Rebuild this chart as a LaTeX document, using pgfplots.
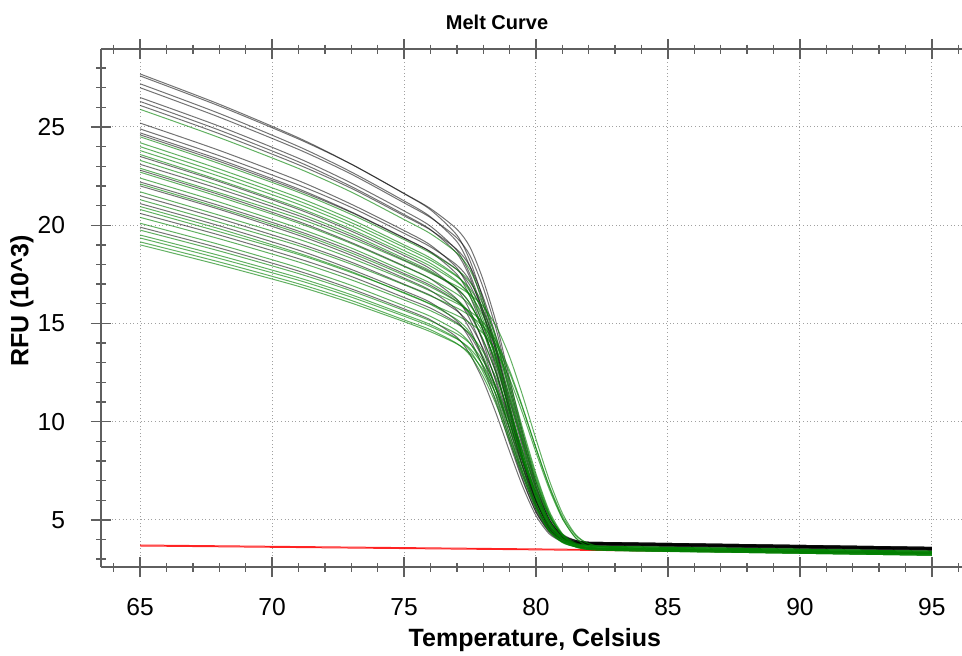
\documentclass[border=0pt]{standalone}
\usepackage{pgfplots}
\pgfplotsset{compat=1.18}
\usepackage{fontspec}
\setmainfont{Liberation Sans}
\definecolor{axgray}{RGB}{95,95,95}
\definecolor{gridgray}{RGB}{160,160,160}
\definecolor{wellgreen}{RGB}{0,128,0}
\tikzset{
  blk/.style={black, opacity=0.55, line width=0.5pt, smooth, tension=0.45},
  grn/.style={wellgreen, opacity=0.62, line width=0.5pt, smooth, tension=0.45},
  rd/.style={red, opacity=0.85, line width=0.5pt}
}
\begin{document}
\begin{tikzpicture}
\begin{axis}[
  scale only axis,
  width=430.5pt, height=259pt,
  xmin=63.52, xmax=96.14,
  ymin=2.6, ymax=28.97,
  axis x line=box,
  axis y line*=left,
  axis line style={-, axgray, line width=0.9pt},
  y axis line style={-},
  xtick={65,70,...,95},
  ytick={5,10,...,25},
  minor xtick={64,...,96},
  minor ytick={3,...,28},
  tick align=center,
  major tick length=10pt,
  minor tick length=4.5pt,
  tick style={axgray, line width=0.7pt},
  xticklabel pos=bottom,
  grid=major,
  major grid style={gridgray, dash pattern=on 0.5pt off 1.3pt, line width=0.5pt},
  /pgf/number format/assume math mode=true,
  tick label style={font=\fontsize{12.3}{14}\selectfont},
  xticklabel style={anchor=north, inner sep=0pt, yshift=-10.6pt},
  yticklabel style={anchor=east, inner sep=0pt, xshift=-12.8pt},
  xlabel={Temperature, Celsius},
  ylabel={RFU (10\textasciicircum 3)},
  label style={font=\fontsize{12.5}{15}\selectfont\bfseries},
  xlabel style={at={(axis description cs:0.504,-0.1544)}, anchor=base},
  ylabel style={at={(axis description cs:-0.0918,0.5135)}, anchor=center, rotate=0},
  title={Melt Curve},
  title style={font=\fontsize{10}{12}\selectfont\bfseries, at={(axis description cs:0.46,1.028)}, anchor=center, yshift=0pt},
]
% red
\addplot[rd] coordinates {(65,3.72)(80,3.52)(95,3.32)};
\addplot[rd] coordinates {(65,3.67)(80,3.475)(95,3.28)};
% black wells
\addplot[blk] coordinates {(65,27.70)(68,26.16)(71,24.45)(73,23.11)(75,21.61)(76,20.79)(77,19.50)(77.5,18.19)(78,16.21)(78.5,13.68)(79,10.86)(79.5,8.19)(80,6.02)(80.5,4.66)(81,4.07)(81.5,3.87)(82,3.81)(83,3.79)(88,3.69)(95,3.55)};
\addplot[blk] coordinates {(65,27.60)(68,26.07)(71,24.39)(73,23.11)(75,21.62)(76,20.85)(77,19.80)(77.5,18.88)(78,17.21)(78.5,15.00)(79,12.18)(79.5,9.43)(80,6.94)(80.5,5.15)(81,4.28)(81.5,3.96)(82,3.86)(83,3.84)(88,3.74)(95,3.60)};
\addplot[blk] coordinates {(65,27.20)(68,25.69)(71,24.01)(73,22.71)(75,21.24)(76,20.43)(77,19.17)(77.5,17.89)(78,15.95)(78.5,13.47)(79,10.72)(79.5,8.10)(80,5.97)(80.5,4.65)(81,4.06)(81.5,3.87)(82,3.81)(83,3.79)(88,3.69)(95,3.55)};
\addplot[blk] coordinates {(65,27.00)(68,25.50)(71,23.86)(73,22.60)(75,21.14)(76,20.39)(77,19.36)(77.5,18.46)(78,16.82)(78.5,14.66)(79,11.90)(79.5,9.21)(80,6.78)(80.5,5.03)(81,4.17)(81.5,3.86)(82,3.76)(83,3.74)(88,3.64)(95,3.50)};
\addplot[blk] coordinates {(65,26.50)(68,25.04)(71,23.41)(73,22.15)(75,20.73)(76,19.95)(77,18.72)(77.5,17.49)(78,15.60)(78.5,13.21)(79,10.54)(79.5,8.01)(80,5.95)(80.5,4.67)(81,4.10)(81.5,3.91)(82,3.86)(83,3.84)(88,3.74)(95,3.60)};
\addplot[blk] coordinates {(65,26.30)(68,24.84)(71,23.23)(73,21.97)(75,20.55)(76,19.78)(77,18.56)(77.5,17.33)(78,15.45)(78.5,13.07)(79,10.41)(79.5,7.89)(80,5.84)(80.5,4.57)(81,4.00)(81.5,3.81)(82,3.76)(83,3.74)(88,3.64)(95,3.50)};
\addplot[blk] coordinates {(65,26.10)(68,24.66)(71,23.08)(73,21.88)(75,20.48)(76,19.76)(77,18.77)(77.5,17.90)(78,16.34)(78.5,14.26)(79,11.62)(79.5,9.04)(80,6.70)(80.5,5.03)(81,4.20)(81.5,3.91)(82,3.81)(83,3.79)(88,3.69)(95,3.55)};
\addplot[blk] coordinates {(65,25.20)(68,23.81)(71,22.27)(73,21.07)(75,19.73)(76,18.99)(77,17.83)(77.5,16.66)(78,14.88)(78.5,12.61)(79,10.09)(79.5,7.69)(80,5.74)(80.5,4.53)(81,3.99)(81.5,3.81)(82,3.76)(83,3.74)(88,3.64)(95,3.50)};
\addplot[blk] coordinates {(65,24.90)(68,23.54)(71,22.05)(73,20.91)(75,19.59)(76,18.90)(77,17.97)(77.5,17.16)(78,15.68)(78.5,13.72)(79,11.23)(79.5,8.80)(80,6.59)(80.5,5.01)(81,4.23)(81.5,3.95)(82,3.86)(83,3.84)(88,3.74)(95,3.60)};
\addplot[blk] coordinates {(65,24.70)(68,23.35)(71,21.85)(73,20.68)(75,19.36)(76,18.64)(77,17.51)(77.5,16.37)(78,14.64)(78.5,12.43)(79,9.97)(79.5,7.64)(80,5.74)(80.5,4.56)(81,4.04)(81.5,3.86)(82,3.81)(83,3.79)(88,3.69)(95,3.55)};
\addplot[blk] coordinates {(65,24.60)(68,23.25)(71,21.77)(73,20.65)(75,19.34)(76,18.66)(77,17.74)(77.5,16.93)(78,15.46)(78.5,13.53)(79,11.06)(79.5,8.65)(80,6.47)(80.5,4.90)(81,4.13)(81.5,3.85)(82,3.76)(83,3.74)(88,3.64)(95,3.50)};
\addplot[blk] coordinates {(65,23.50)(68,22.22)(71,20.81)(73,19.70)(75,18.46)(76,17.78)(77,16.72)(77.5,15.65)(78,14.01)(78.5,11.93)(79,9.62)(79.5,7.42)(80,5.63)(80.5,4.52)(81,4.02)(81.5,3.86)(82,3.81)(83,3.79)(88,3.69)(95,3.55)};
\addplot[blk] coordinates {(65,23.10)(68,21.85)(71,20.49)(73,19.44)(75,18.23)(76,17.61)(77,16.76)(77.5,16.01)(78,14.66)(78.5,12.87)(79,10.59)(79.5,8.37)(80,6.36)(80.5,4.91)(81,4.20)(81.5,3.95)(82,3.86)(83,3.84)(88,3.74)(95,3.60)};
\addplot[blk] coordinates {(65,22.80)(68,21.56)(71,20.19)(73,19.12)(75,17.93)(76,17.27)(77,16.24)(77.5,15.20)(78,13.62)(78.5,11.61)(79,9.37)(79.5,7.25)(80,5.52)(80.5,4.44)(81,3.97)(81.5,3.81)(82,3.76)(83,3.74)(88,3.64)(95,3.50)};
\addplot[blk] coordinates {(65,22.20)(68,21.00)(71,19.70)(73,18.70)(75,17.54)(76,16.94)(77,16.13)(77.5,15.42)(78,14.12)(78.5,12.42)(79,10.24)(79.5,8.12)(80,6.20)(80.5,4.81)(81,4.14)(81.5,3.89)(82,3.81)(83,3.79)(88,3.69)(95,3.55)};
\addplot[blk] coordinates {(65,22.00)(68,20.81)(71,19.49)(73,18.47)(75,17.31)(76,16.68)(77,15.69)(77.5,14.70)(78,13.18)(78.5,11.25)(79,9.10)(79.5,7.06)(80,5.40)(80.5,4.37)(81,3.91)(81.5,3.76)(82,3.71)(83,3.69)(88,3.59)(95,3.45)};
\addplot[blk] coordinates {(65,21.50)(68,20.34)(71,19.08)(73,18.12)(75,17.00)(76,16.43)(77,15.64)(77.5,14.95)(78,13.71)(78.5,12.06)(79,9.96)(79.5,7.92)(80,6.06)(80.5,4.73)(81,4.08)(81.5,3.84)(82,3.76)(83,3.74)(88,3.64)(95,3.50)};
\addplot[blk] coordinates {(65,21.10)(68,19.97)(71,18.73)(73,17.75)(75,16.66)(76,16.07)(77,15.13)(77.5,14.19)(78,12.75)(78.5,10.93)(79,8.90)(79.5,6.98)(80,5.41)(80.5,4.43)(81,4.00)(81.5,3.85)(82,3.81)(83,3.79)(88,3.69)(95,3.55)};
\addplot[blk] coordinates {(65,20.60)(68,19.50)(71,18.30)(73,17.39)(75,16.32)(76,15.78)(77,15.03)(77.5,14.38)(78,13.20)(78.5,11.63)(79,9.64)(79.5,7.70)(80,5.95)(80.5,4.68)(81,4.06)(81.5,3.84)(82,3.76)(83,3.74)(88,3.64)(95,3.50)};
\addplot[blk] coordinates {(65,19.90)(68,18.84)(71,17.67)(73,16.76)(75,15.74)(76,15.18)(77,14.30)(77.5,13.42)(78,12.08)(78.5,10.37)(79,8.48)(79.5,6.68)(80,5.21)(80.5,4.29)(81,3.89)(81.5,3.75)(82,3.71)(83,3.69)(88,3.59)(95,3.45)};
% green wells
\addplot[grn] coordinates {(65,25.90)(68,24.46)(71,22.89)(73,21.69)(75,20.29)(76,19.57)(77,18.59)(77.5,17.72)(78,16.16)(78.5,14.09)(79,11.45)(79.5,8.88)(80,6.55)(80.5,4.87)(81,4.05)(81.5,3.76)(82,3.66)(83,3.64)(88,3.54)(95,3.40)};
\addplot[grn] coordinates {(65,24.50)(68,23.14)(71,21.68)(73,20.55)(75,19.27)(76,18.59)(77,17.75)(77.5,17.10)(78,15.96)(78.5,14.26)(79,12.05)(79.5,9.63)(80,7.35)(80.5,5.46)(81,4.30)(81.5,3.78)(82,3.60)(83,3.54)(88,3.44)(95,3.30)};
\addplot[grn] coordinates {(65,24.20)(68,22.86)(71,21.41)(73,20.29)(75,19.00)(76,18.33)(77,17.42)(77.5,16.62)(78,15.17)(78.5,13.26)(79,10.82)(79.5,8.44)(80,6.28)(80.5,4.73)(81,3.97)(81.5,3.70)(82,3.61)(83,3.59)(88,3.49)(95,3.35)};
\addplot[grn] coordinates {(65,24.00)(68,22.67)(71,21.24)(73,20.13)(75,18.88)(76,18.22)(77,17.39)(77.5,16.76)(78,15.64)(78.5,13.98)(79,11.81)(79.5,9.44)(80,7.22)(80.5,5.37)(81,4.24)(81.5,3.72)(82,3.55)(83,3.49)(88,3.39)(95,3.25)};
\addplot[grn] coordinates {(65,23.80)(68,22.49)(71,21.07)(73,19.98)(75,18.71)(76,18.06)(77,17.16)(77.5,16.38)(78,14.97)(78.5,13.10)(79,10.71)(79.5,8.38)(80,6.27)(80.5,4.76)(81,4.02)(81.5,3.75)(82,3.66)(83,3.64)(88,3.54)(95,3.40)};
\addplot[grn] coordinates {(65,23.60)(68,22.29)(71,20.89)(73,19.80)(75,18.57)(76,17.92)(77,17.10)(77.5,16.48)(78,15.38)(78.5,13.75)(79,11.62)(79.5,9.29)(80,7.10)(80.5,5.29)(81,4.17)(81.5,3.67)(82,3.50)(83,3.44)(88,3.34)(95,3.20)};
\addplot[grn] coordinates {(65,23.30)(68,22.02)(71,20.62)(73,19.55)(75,18.31)(76,17.67)(77,16.79)(77.5,16.03)(78,14.64)(78.5,12.81)(79,10.47)(79.5,8.19)(80,6.12)(80.5,4.64)(81,3.91)(81.5,3.65)(82,3.56)(83,3.54)(88,3.44)(95,3.30)};
\addplot[grn] coordinates {(65,22.90)(68,21.65)(71,20.35)(73,19.33)(75,18.19)(76,17.56)(77,16.90)(77.5,16.47)(78,15.87)(78.5,14.84)(79,13.30)(79.5,11.30)(80,9.11)(80.5,7.03)(81,5.34)(81.5,4.26)(82,3.80)(83,3.59)(88,3.49)(95,3.35)};
\addplot[grn] coordinates {(65,22.70)(68,21.45)(71,20.11)(73,19.07)(75,17.90)(76,17.28)(77,16.50)(77.5,15.91)(78,14.86)(78.5,13.31)(79,11.28)(79.5,9.06)(80,6.98)(80.5,5.26)(81,4.19)(81.5,3.71)(82,3.55)(83,3.49)(88,3.39)(95,3.25)};
\addplot[grn] coordinates {(65,22.40)(68,21.18)(71,19.85)(73,18.84)(75,17.66)(76,17.05)(77,16.22)(77.5,15.49)(78,14.17)(78.5,12.43)(79,10.22)(79.5,8.05)(80,6.09)(80.5,4.68)(81,3.99)(81.5,3.74)(82,3.66)(83,3.64)(88,3.54)(95,3.40)};
\addplot[grn] coordinates {(65,22.10)(68,20.89)(71,19.60)(73,18.59)(75,17.46)(76,16.86)(77,16.11)(77.5,15.53)(78,14.52)(78.5,13.02)(79,11.06)(79.5,8.92)(80,6.91)(80.5,5.25)(81,4.22)(81.5,3.75)(82,3.60)(83,3.54)(88,3.44)(95,3.30)};
\addplot[grn] coordinates {(65,21.70)(68,20.51)(71,19.29)(73,18.32)(75,17.24)(76,16.65)(77,16.02)(77.5,15.61)(78,15.05)(78.5,14.07)(79,12.61)(79.5,10.72)(80,8.66)(80.5,6.69)(81,5.09)(81.5,4.08)(82,3.64)(83,3.44)(88,3.34)(95,3.20)};
\addplot[grn] coordinates {(65,21.30)(68,20.15)(71,18.96)(73,18.02)(75,16.97)(76,16.40)(77,15.79)(77.5,15.39)(78,14.85)(78.5,13.90)(79,12.48)(79.5,10.65)(80,8.65)(80.5,6.75)(81,5.19)(81.5,4.21)(82,3.78)(83,3.59)(88,3.49)(95,3.35)};
\addplot[grn] coordinates {(65,20.95)(68,19.82)(71,18.58)(73,17.64)(75,16.54)(76,15.97)(77,15.20)(77.5,14.53)(78,13.31)(78.5,11.69)(79,9.64)(79.5,7.63)(80,5.82)(80.5,4.51)(81,3.87)(81.5,3.64)(82,3.56)(83,3.54)(88,3.44)(95,3.30)};
\addplot[grn] coordinates {(65,20.80)(68,19.67)(71,18.51)(73,17.59)(75,16.57)(76,16.00)(77,15.41)(77.5,15.02)(78,14.49)(78.5,13.56)(79,12.18)(79.5,10.39)(80,8.43)(80.5,6.57)(81,5.06)(81.5,4.10)(82,3.68)(83,3.49)(88,3.39)(95,3.25)};
\addplot[grn] coordinates {(65,20.40)(68,19.31)(71,18.13)(73,17.22)(75,16.20)(76,15.65)(77,14.98)(77.5,14.46)(78,13.55)(78.5,12.19)(79,10.43)(79.5,8.50)(80,6.68)(80.5,5.18)(81,4.25)(81.5,3.83)(82,3.69)(83,3.64)(88,3.54)(95,3.40)};
\addplot[grn] coordinates {(65,20.10)(68,19.02)(71,17.84)(73,16.94)(75,15.90)(76,15.36)(77,14.63)(77.5,13.99)(78,12.83)(78.5,11.29)(79,9.34)(79.5,7.43)(80,5.71)(80.5,4.46)(81,3.86)(81.5,3.63)(82,3.56)(83,3.54)(88,3.44)(95,3.30)};
\addplot[grn] coordinates {(65,19.75)(68,18.69)(71,17.54)(73,16.66)(75,15.66)(76,15.13)(77,14.47)(77.5,13.97)(78,13.08)(78.5,11.76)(79,10.04)(79.5,8.17)(80,6.40)(80.5,4.94)(81,4.04)(81.5,3.63)(82,3.49)(83,3.44)(88,3.34)(95,3.20)};
\addplot[grn] coordinates {(65,19.50)(68,18.46)(71,17.33)(73,16.46)(75,15.46)(76,14.94)(77,14.24)(77.5,13.62)(78,12.51)(78.5,11.04)(79,9.16)(79.5,7.33)(80,5.67)(80.5,4.48)(81,3.89)(81.5,3.68)(82,3.61)(83,3.59)(88,3.49)(95,3.35)};
\addplot[grn] coordinates {(65,19.35)(68,18.31)(71,17.20)(73,16.34)(75,15.37)(76,14.85)(77,14.21)(77.5,13.72)(78,12.86)(78.5,11.58)(79,9.91)(79.5,8.09)(80,6.37)(80.5,4.95)(81,4.07)(81.5,3.68)(82,3.54)(83,3.49)(88,3.39)(95,3.25)};
\addplot[grn] coordinates {(65,19.15)(68,18.13)(71,17.02)(73,16.17)(75,15.18)(76,14.68)(77,13.98)(77.5,13.38)(78,12.29)(78.5,10.84)(79,9.00)(79.5,7.21)(80,5.58)(80.5,4.41)(81,3.84)(81.5,3.63)(82,3.56)(83,3.54)(88,3.44)(95,3.30)};
\addplot[grn] coordinates {(65,19.00)(68,17.98)(71,16.89)(73,16.04)(75,15.09)(76,14.58)(77,13.96)(77.5,13.48)(78,12.63)(78.5,11.37)(79,9.74)(79.5,7.95)(80,6.27)(80.5,4.87)(81,4.01)(81.5,3.62)(82,3.49)(83,3.44)(88,3.34)(95,3.20)};
\end{axis}
\pgfresetboundingbox
\path[use as bounding box] ([xshift=-50.5pt,yshift=-44pt]current axis.south west) rectangle ([yshift=24.5pt]current axis.north east);
\end{tikzpicture}
\end{document}
